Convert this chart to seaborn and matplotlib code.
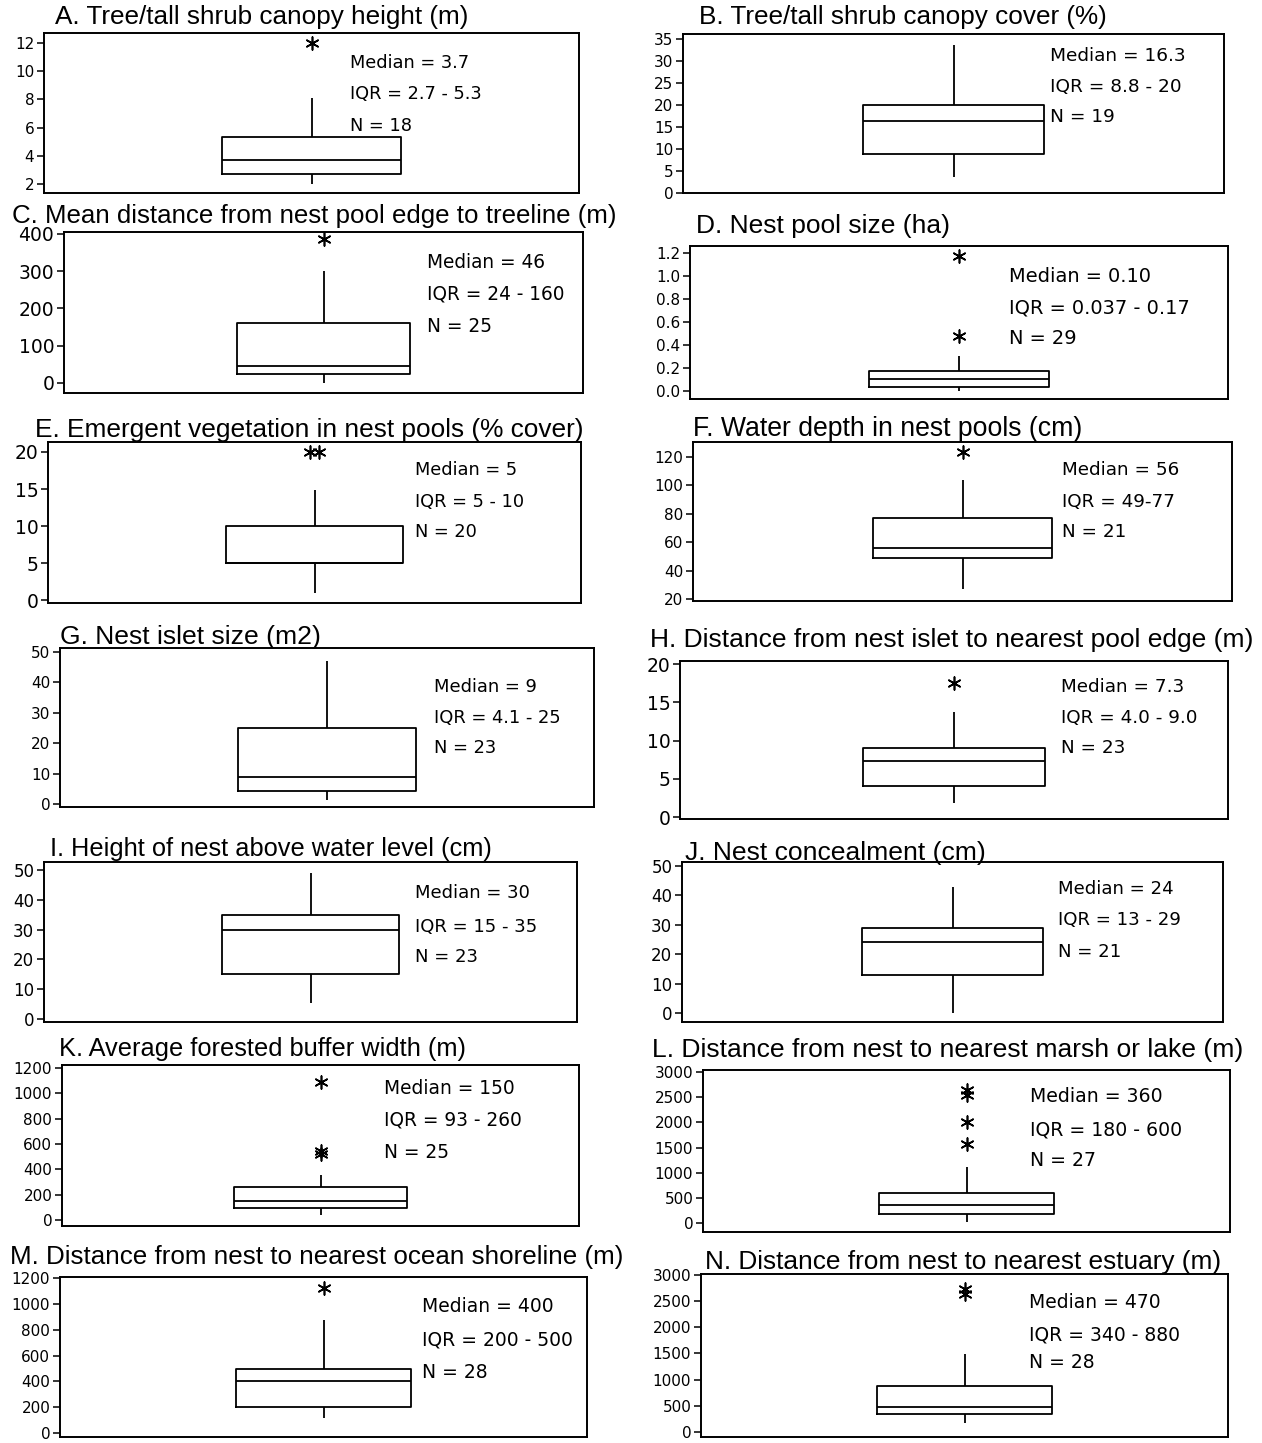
import numpy as np
import pandas as pd
import matplotlib
matplotlib.use("Agg")
import matplotlib.pyplot as plt
import seaborn as sns

# ---------------------------------------------------------------- data
titles = [
    "A. Tree/tall shrub canopy height (m)",
    "B. Tree/tall shrub canopy cover (%)",
    "C. Mean distance from nest pool edge to treeline (m)",
    "D. Nest pool size (ha)",
    "E. Emergent vegetation in nest pools (% cover)",
    "F. Water depth in nest pools (cm)",
    "G. Nest islet size (m2)",
    "H. Distance from nest islet to nearest pool edge (m)",
    "I. Height of nest above water level (cm)",
    "J. Nest concealment (cm)",
    "K. Average forested buffer width (m)",
    "L. Distance from nest to nearest marsh or lake (m)",
    "M. Distance from nest to nearest ocean shoreline (m)",
    "N. Distance from nest to nearest estuary (m)",
]

# box summaries: whisker ends, quartiles and median
whisker_low = [2.0, 3.6, 0, 0.0, 1.0, 27, 1.3, 1.8, 5.4, 0, 40, 20, 115, 170]
quart1 = [2.7, 8.8, 24, 0.037, 5, 49, 4.1, 4.0, 15, 13, 93, 180, 200, 340]
median = [3.7, 16.3, 46, 0.10, 5, 56, 9, 7.3, 30, 24, 150, 360, 400, 470]
quart3 = [5.3, 20, 160, 0.17, 10, 77, 25, 9.0, 35, 29, 260, 600, 500, 880]
whisker_high = [8.1, 33.6, 300, 0.30, 14.9, 104, 47, 13.7, 49, 43, 355, 1113, 872, 1480]

outliers = [
    [12.0], [], [387], [0.48, 1.17], [20, 20], [123.5], [], [17.5], [], [],
    [520, 545, 1090], [1570, 2010, 2550, 2640], [1120], [2630, 2720],
]

n_obs = [18, 19, 25, 29, 20, 21, 23, 23, 23, 21, 25, 27, 28, 28]
median_txt = ["3.7", "16.3", "46", "0.10", "5", "56", "9", "7.3", "30", "24",
              "150", "360", "400", "470"]
iqr_txt = ["2.7 - 5.3", "8.8 - 20", "24 - 160", "0.037 - 0.17", "5 - 10", "49-77",
           "4.1 - 25", "4.0 - 9.0", "15 - 35", "13 - 29", "93 - 260", "180 - 600",
           "200 - 500", "340 - 880"]

# y-axis ranges and tick steps
y_limits = [(1.36, 12.7), (-0.1, 36.1), (-27, 405), (-0.07, 1.26), (-0.4, 21.35),
            (18.6, 130.6), (-1, 51.3), (-0.26, 20.4), (-1, 52.7), (-3.1, 51.4),
            (-47, 1224), (-179, 3040), (-30, 1208), (-95, 3010)]
y_ticks = [(2, 12, 2), (0, 35, 5), (0, 400, 100), (0, 1.2, 0.2), (0, 20, 5),
           (20, 120, 20), (0, 50, 10), (0, 20, 5), (0, 50, 10), (0, 50, 10),
           (0, 1200, 200), (0, 3000, 500), (0, 1200, 200), (0, 3000, 500)]

# ---------------------------------------------------------------- layout (pixels)
W, H = 1262, 1443
axes_px = [  # left, top, right, bottom
    (44, 33, 579, 193), (683, 34, 1224, 193),
    (64, 232, 583, 393), (690, 246, 1228, 399),
    (48, 442, 581, 603), (693, 442, 1232, 601),
    (60, 648, 594, 807), (680, 661, 1228, 819),
    (44, 862, 577, 1022), (682, 862, 1223, 1022),
    (62, 1065, 579, 1226), (703, 1070, 1230, 1232),
    (60, 1277, 587, 1437), (701, 1274, 1228, 1437),
]
title_px = [  # left x, centre y, text width
    (55, 17, 414), (699, 17, 409), (12, 216, 604), (696, 226, 254),
    (35, 430, 548), (693, 429, 390), (60, 637, 260), (650, 640, 602),
    (50, 849, 440), (685, 853, 300), (59, 1049, 406), (652, 1050, 590),
    (10, 1257, 614), (705, 1262, 517),
]
note_px = [  # left x, centre y of the three lines, width of the median line
    (350, (63, 94, 126), 119), (1050, (56, 87, 117), 135),
    (427, (262, 294, 326), 118), (1009, (277, 308, 339), 141),
    (415, (470, 502, 532), 102), (1062, (470, 502, 532), 117),
    (434, (687, 718, 748), 103), (1061, (687, 718, 748), 123),
    (415, (893, 927, 957), 115), (1058, (889, 920, 952), 116),
    (384, (1088, 1120, 1152), 130), (1030, (1096, 1130, 1160), 132),
    (422, (1306, 1340, 1372), 131), (1029, (1303, 1335, 1363), 131),
]
tick_fs = [11, 11, 13.5, 11, 13.5, 11, 11, 13.5, 12, 12, 11, 11, 11, 11]

# ---------------------------------------------------------------- drawing
sns.set_theme(style="white")
plt.rcParams["font.family"] = ["DejaVu Sans"]

fig = plt.figure(figsize=(W / 100, H / 100), dpi=100)
fig.patch.set_facecolor("white")

title_artists, note_artists = [], []

for i in range(len(titles)):
    l, t, r, b = axes_px[i]
    ax = fig.add_axes([l / W, 1 - b / H, (r - l) / W, (b - t) / H])

    summary = pd.DataFrame({"value": [whisker_low[i], quart1[i], median[i],
                                      quart3[i], whisker_high[i]]})
    sns.boxplot(data=summary, y="value", ax=ax, whis=(0, 100), width=0.333,
                fill=False, color="black", linewidth=1.3,
                showcaps=False, showfliers=False)

    outs = outliers[i]
    if outs:
        # spread tied values slightly so each one stays visible
        counts = {}
        for v in outs:
            counts[v] = counts.get(v, 0) + 1
        offs, seen = [], {}
        for v in outs:
            k = seen.get(v, 0)
            seen[v] = k + 1
            offs.append((k - (counts[v] - 1) / 2) * 0.016)
        sns.scatterplot(x=offs, y=outs, ax=ax, marker=(6, 2, 0), s=85,
                        color="black", linewidth=1.2, legend=False)

    ax.set_xlim(-0.5, 0.5)
    ax.set_ylim(*y_limits[i])
    lo, hi, step = y_ticks[i]
    ticks = np.arange(lo, hi + step / 2, step)
    ax.set_yticks(ticks)
    if step < 1:
        ax.set_yticklabels([f"{v:.1f}" for v in ticks])
    else:
        ax.set_yticklabels([f"{int(round(v))}" for v in ticks])
    ax.set_xticks([])
    ax.set_xlabel("")
    ax.set_ylabel("")
    ax.tick_params(axis="y", left=True, length=5, width=1.1, color="black",
                   labelsize=tick_fs[i], pad=2, labelcolor="black")
    for sp in ax.spines.values():
        sp.set_visible(True)
        sp.set_color("black")
        sp.set_linewidth(1.4)
    ax.set_facecolor("white")

    tx, ty, _ = title_px[i]
    title_artists.append(fig.text(tx / W, 1 - ty / H, titles[i], fontsize=18,
                                  family=["Liberation Sans", "DejaVu Sans"],
                                  ha="left", va="center", color="black"))

    nx, nys, _ = note_px[i]
    lines = [f"Median = {median_txt[i]}", f"IQR = {iqr_txt[i]}", f"N = {n_obs[i]}"]
    note_artists.append([fig.text(nx / W, 1 - y / H, s, fontsize=13,
                                  family=["DejaVu Sans"], ha="left", va="center",
                                  color="black")
                         for s, y in zip(lines, nys)])

# size the titles and notes to their measured widths
fig.canvas.draw()
renderer = fig.canvas.get_renderer()
for i, art in enumerate(title_artists):
    w = art.get_window_extent(renderer).width
    art.set_fontsize(18 * title_px[i][2] / w)
for i, arts in enumerate(note_artists):
    w = arts[0].get_window_extent(renderer).width
    size = 13 * note_px[i][2] / w
    for a in arts:
        a.set_fontsize(size)

fig.savefig("out.png", dpi=100, facecolor="white")
